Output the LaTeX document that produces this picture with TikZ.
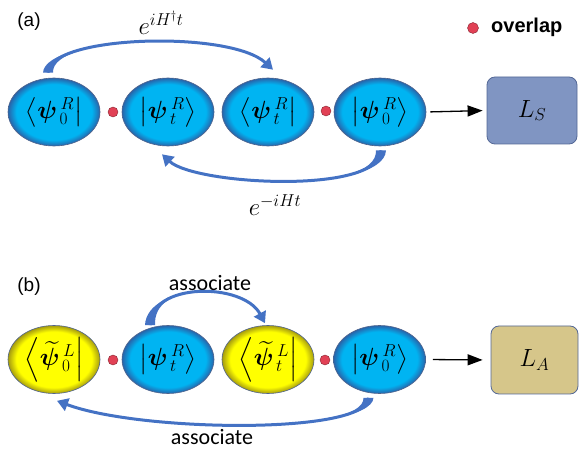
\documentclass[tikz,border=0pt]{standalone}
\usepackage{amsmath}
\usepackage{bm}
\usepackage{fontspec}
\setmainfont{Liberation Sans}
\newfontfamily\carl{Carlito}
\usetikzlibrary{shapes.geometric,arrows.meta,calc}
\definecolor{cyanA}{RGB}{0,180,242}
\definecolor{cyanD}{RGB}{40,100,170}
\definecolor{yelA}{RGB}{255,255,0}
\definecolor{yelD}{RGB}{165,155,15}
\definecolor{rimc}{RGB}{80,100,140}
\definecolor{arrblue}{RGB}{68,114,196}
\definecolor{lsfill}{RGB}{128,149,194}
\definecolor{lsdraw}{RGB}{84,104,150}
\definecolor{lafill}{RGB}{214,198,138}
\definecolor{dotred}{RGB}{225,65,85}
\pgfdeclareradialshading{cyanball}{\pgfpoint{0bp}{0bp}}{color(0bp)=(cyanA); color(20.5bp)=(cyanA); color(25bp)=(cyanD); color(50bp)=(cyanD)}
\pgfdeclareradialshading{yelball}{\pgfpoint{0bp}{0bp}}{color(0bp)=(yelA); color(20.5bp)=(yelA); color(25bp)=(yelD); color(50bp)=(yelD)}
\newcommand{\mytaperarrow}[4]{%
  \coordinate (tq1) at ($(#1)!0.5!(#2)$);
  \coordinate (tm12) at ($(#2)!0.5!(#3)$);
  \coordinate (tq2) at ($(tq1)!0.5!(tm12)$);
  \coordinate (tm23) at ($(#3)!0.5!(#4)$);
  \coordinate (tr1) at ($(tm12)!0.5!(tm23)$);
  \coordinate (tq3) at ($(tq2)!0.5!(tr1)$);
  \fill[taper] ($(#1)+(-5,0)$) .. controls ($(tq1)+(-4,0)$) and (tq2) .. (tq3)
      .. controls (tq2) and ($(tq1)+(4,0)$) .. ($(#1)+(5,0)$) -- cycle;
  \draw[curv] (#1) .. controls (#2) and (#3) .. (#4);
}
\begin{document}
\begin{tikzpicture}[x=1pt,y=-1pt,
  ell/.style={ellipse, minimum width=92pt, minimum height=68pt, inner sep=0pt, draw=rimc, line width=0.6pt, font=\fontsize{32}{36}\selectfont},
  cyanell/.style={ell, shade, shading=cyanball},
  yelell/.style={ell, shade, shading=yelball},
  rdot/.style={circle, fill=dotred, draw=dotred!60!black, line width=0.4pt, minimum size=10pt, inner sep=0pt},
  outbox/.style={rounded corners=8pt, minimum width=90pt, minimum height=67pt, line width=0.8pt, font=\fontsize{32}{36}\selectfont},
  curv/.style={draw=arrblue, line width=3pt, -{Triangle[width=13pt,length=11pt]}},
  taper/.style={fill=arrblue},
  blk/.style={draw=black, line width=1.3pt, -{Triangle[width=11pt,length=15pt]}},
  lab/.style={font=\fontsize{19}{22}\selectfont, inner sep=0pt},
  assoc/.style={font=\carl\fontsize{22}{26}\selectfont, inner sep=0pt},
  expo/.style={font=\fontsize{26}{30}\selectfont, inner sep=0pt}
]
\useasboundingbox (0,0) rectangle (579,449);

% ---------- (a) ----------
\node[lab] (la) at (29,22) {(a)};
\node[rdot, minimum size=11pt] (legdot) at (473,28) {};
\node[font=\bfseries\fontsize{20}{24}\selectfont, inner sep=0pt, anchor=west] (legtxt) at (491,27) {overlap};

\node[cyanell] (a1) at (54,112) {$\left\langle\bm{\psi}^{\,\scriptscriptstyle R}_{\,\scriptscriptstyle 0}\right|$};
\node[cyanell] (a2) at (168,112) {$\left|\bm{\psi}^{\,\scriptscriptstyle R}_{\,\scriptscriptstyle t}\right\rangle$};
\node[cyanell] (a3) at (268,112) {$\left\langle\bm{\psi}^{\,\scriptscriptstyle R}_{\,\scriptscriptstyle t}\right|$};
\node[cyanell] (a4) at (380,112) {$\left|\bm{\psi}^{\,\scriptscriptstyle R}_{\,\scriptscriptstyle 0}\right\rangle$};
\node[rdot] (d1) at (113,112) {};
\node[rdot] (d2) at (326,111) {};
\node[outbox, fill=lsfill, draw=lsdraw] (LS) at (532,110.5) {$L_{\scriptscriptstyle S}$};
\draw[blk, shorten <=4pt, shorten >=4pt] (a4.east) -- (LS.west);

\node[expo] (ea) at (161,23) {$e^{iH^{\dagger}t}$};
\node[expo] (eb) at (275,205) {$e^{-iHt}$};

% top arrow (a)
\coordinate (s1) at ($(a1.north)+(-6,-5)$);
\coordinate (t1) at ($(a3.north)+(5,-8)$);
\coordinate (c11) at (48,35);
\coordinate (c12) at (230,30);
\mytaperarrow{s1}{c11}{c12}{t1}

% bottom arrow (a)
\coordinate (s2) at ($(a4.south)+(1,4)$);
\coordinate (t2) at ($(a2.south)+(-6,8)$);
\coordinate (c21) at (381,195);
\coordinate (c22) at (195,185);
\mytaperarrow{s2}{c21}{c22}{t2}

% ---------- (b) ----------
\node[lab] (lb) at (29,287) {(b)};
\node[yelell] (b1) at (54,359.5) {$\left\langle\widetilde{\bm{\psi}}^{\,\scriptscriptstyle L}_{\,\scriptscriptstyle 0}\right|$};
\node[cyanell] (b2) at (168,359.5) {$\left|\bm{\psi}^{\,\scriptscriptstyle R}_{\,\scriptscriptstyle t}\right\rangle$};
\node[yelell] (b3) at (268,359.5) {$\left\langle\widetilde{\bm{\psi}}^{\,\scriptscriptstyle L}_{\,\scriptscriptstyle t}\right|$};
\node[cyanell] (b4) at (379.5,359.5) {$\left|\bm{\psi}^{\,\scriptscriptstyle R}_{\,\scriptscriptstyle 0}\right\rangle$};
\node[rdot] (d3) at (113,360) {};
\node[rdot] (d4) at (325,360) {};
\node[outbox, fill=lafill, draw=lsdraw, minimum width=87pt, minimum height=68pt] (LA) at (534.5,360) {$L_{\scriptscriptstyle A}$};
\draw[blk, shorten <=7pt, shorten >=8pt] (b4.east) -- (LA.west);

\node[assoc] (as1) at (210,283) {associate};
\node[assoc] (as2) at (212,437) {associate};

% top arrow (b)
\coordinate (s3) at ($(b2.north)+(-18,0)$);
\coordinate (t3) at ($(b3.north)+(-3,-2)$);
\coordinate (c31) at (150,282);
\coordinate (c32) at (243,282);
\mytaperarrow{s3}{c31}{c32}{t3}

% bottom arrow (b)
\coordinate (s4) at ($(b4.south)+(-11,4)$);
\coordinate (t4) at ($(b1.south)+(3,7)$);
\coordinate (c41) at (368,435);
\coordinate (c42) at (140,432);
\mytaperarrow{s4}{c41}{c42}{t4}
\end{tikzpicture}
\end{document}
